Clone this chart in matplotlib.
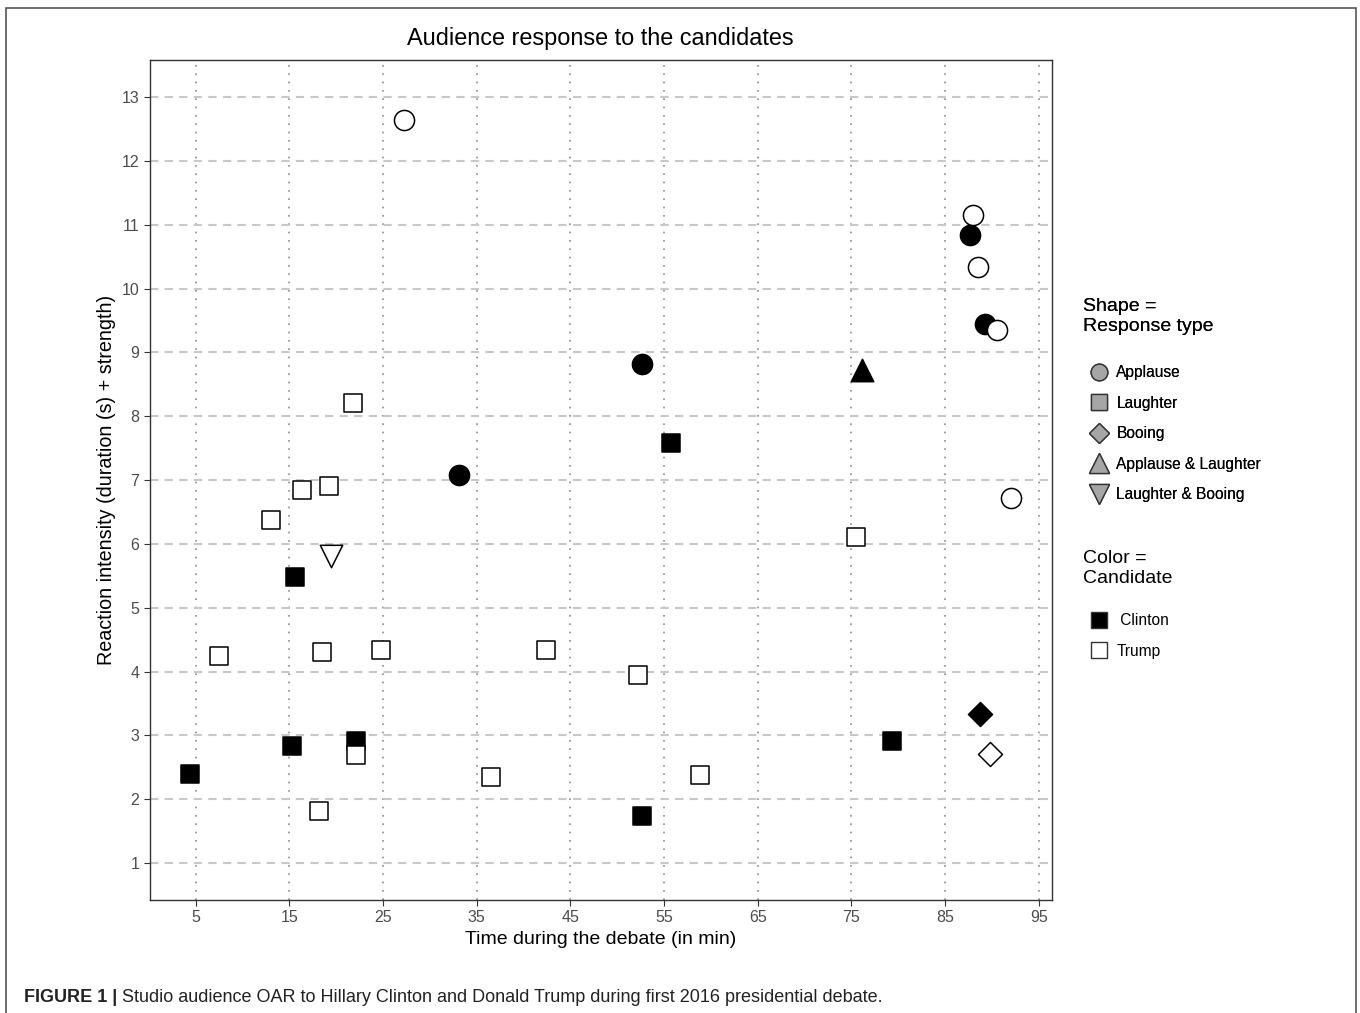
import matplotlib.pyplot as plt
from matplotlib.lines import Line2D
from matplotlib.patches import Rectangle

# Reaction data: (time in min, intensity)
clinton_applause_x = [87.7, 89.3, 52.6, 33.1]
clinton_applause_y = [10.84, 9.44, 8.82, 7.08]
trump_applause_x = [27.2, 87.95, 88.5, 90.5, 92.0]
trump_applause_y = [12.64, 11.15, 10.34, 9.35, 6.72]

clinton_laughter_x = [55.7, 15.6, 15.25, 22.1, 4.36, 52.6, 79.3]
clinton_laughter_y = [7.58, 5.48, 2.83, 2.91, 2.39, 1.74, 2.91]
trump_laughter_x = [21.8, 19.2, 16.4, 13.1, 7.46, 18.45, 24.75, 42.4,
                    52.2, 22.1, 36.5, 58.8, 18.2, 75.5]
trump_laughter_y = [8.21, 6.91, 6.84, 6.37, 4.24, 4.30, 4.34, 4.34,
                    3.94, 2.69, 2.35, 2.38, 1.81, 6.11]

clinton_booing_x = [88.7]
clinton_booing_y = [3.33]
trump_booing_x = [89.8]
trump_booing_y = [2.71]

clinton_appl_laugh_x = [76.1]
clinton_appl_laugh_y = [8.72]

trump_laugh_boo_x = [19.5]
trump_laugh_boo_y = [5.81]

x_ticks = [5, 15, 25, 35, 45, 55, 65, 75, 85, 95]
y_ticks = list(range(1, 14))

shape_labels = ['Applause', 'Laughter', 'Booing', 'Applause & Laughter', 'Laughter & Booing']
color_labels = [' Clinton', 'Trump']

narrow = ['Liberation Sans Narrow', 'Liberation Sans', 'DejaVu Sans']
plt.rcParams['font.family'] = ['Liberation Sans', 'DejaVu Sans']

fig = plt.figure(figsize=(13.6, 10.13), dpi=100)
ax = fig.add_axes([0.110, 0.1115, 0.6635, 0.8293])

groups = [
    (clinton_applause_x, clinton_applause_y, 'o', 'black', 210),
    (trump_applause_x, trump_applause_y, 'o', 'white', 210),
    (clinton_laughter_x, clinton_laughter_y, 's', 'black', 170),
    (trump_laughter_x, trump_laughter_y, 's', 'white', 170),
    (clinton_booing_x, clinton_booing_y, 'D', 'black', 150),
    (trump_booing_x, trump_booing_y, 'D', 'white', 150),
    (clinton_appl_laugh_x, clinton_appl_laugh_y, '^', 'black', 260),
    (trump_laugh_boo_x, trump_laugh_boo_y, 'v', 'white', 260),
]
for xs, ys, m, c, s in groups:
    ax.scatter(xs, ys, marker=m, s=s, facecolor=c, edgecolor='black',
               linewidth=1.1, zorder=3)

ax.set_xlim(0.1, 96.4)
ax.set_ylim(0.42, 13.58)
ax.set_xticks(x_ticks)
ax.set_yticks(y_ticks)
ax.tick_params(length=4, color='#333333', labelcolor='#4d4d4d', labelsize=11.5)
for lab in ax.get_xticklabels() + ax.get_yticklabels():
    lab.set_family(narrow)
ax.yaxis.grid(True, linestyle=(0, (4, 3)), color='#c8c8c8', linewidth=1.5)
ax.xaxis.grid(True, linestyle=(0, (1, 4)), color='#8c8c8c', linewidth=1.2)
ax.set_axisbelow(True)
for sp in ax.spines.values():
    sp.set_color('#333333')
    sp.set_linewidth(1.0)

ax.set_xlabel('Time during the debate (in min)', fontsize=14, labelpad=4)
ax.set_ylabel('Reaction intensity (duration (s) + strength)', fontsize=14.2, labelpad=4)
ax.set_title('Audience response to the candidates', fontsize=16.9, pad=11)

# legends
grey = '#a6a6a6'
shape_handles = [
    Line2D([], [], marker='o', ls='', ms=12, mfc=grey, mec='#333333'),
    Line2D([], [], marker='s', ls='', ms=11, mfc=grey, mec='#333333'),
    Line2D([], [], marker='D', ls='', ms=10, mfc=grey, mec='#333333'),
    Line2D([], [], marker='^', ls='', ms=15, mfc=grey, mec='#333333'),
    Line2D([], [], marker='v', ls='', ms=15, mfc=grey, mec='#333333'),
]
leg1 = fig.legend(shape_handles, shape_labels, title='Shape =\nResponse type',
                  loc='upper left', bbox_to_anchor=(1069 / 1360, 1 - 284 / 1013),
                  frameon=False, fontsize=11.2, title_fontsize=14,
                  labelspacing=1.0, handletextpad=0.15, alignment='left')
leg1._legend_box.sep = 22
color_handles = [
    Line2D([], [], marker='s', ls='', ms=11, mfc='black', mec='#333333'),
    Line2D([], [], marker='s', ls='', ms=11, mfc='white', mec='#333333'),
]
leg2 = fig.legend(color_handles, color_labels, title='Color =\nCandidate',
                  loc='upper left', bbox_to_anchor=(1069 / 1360, 1 - 536 / 1013),
                  frameon=False, fontsize=11.2, title_fontsize=14,
                  labelspacing=1.0, handletextpad=0.15, alignment='left')
leg2._legend_box.sep = 19
fig.add_artist(leg1)

# outer frame and caption
fig.add_artist(Rectangle((6 / 1360, -0.01), 1350 / 1360, 1.01 - 8 / 1013,
                         transform=fig.transFigure, fill=False,
                         edgecolor='#555555', linewidth=1.2))
t1 = fig.text(24 / 1360, 1 - 997 / 1013, 'FIGURE 1 |', fontsize=13, fontweight='bold',
              family=narrow, va='center', color='#222222')
ax.annotate(' Studio audience OAR to Hillary Clinton and Donald Trump during first 2016 presidential debate.',
            xy=(1, 0.5), xycoords=t1, va='center', ha='left', fontsize=13,
            family=narrow, color='#222222', annotation_clip=False)

fig.savefig('out.png', dpi=100)
